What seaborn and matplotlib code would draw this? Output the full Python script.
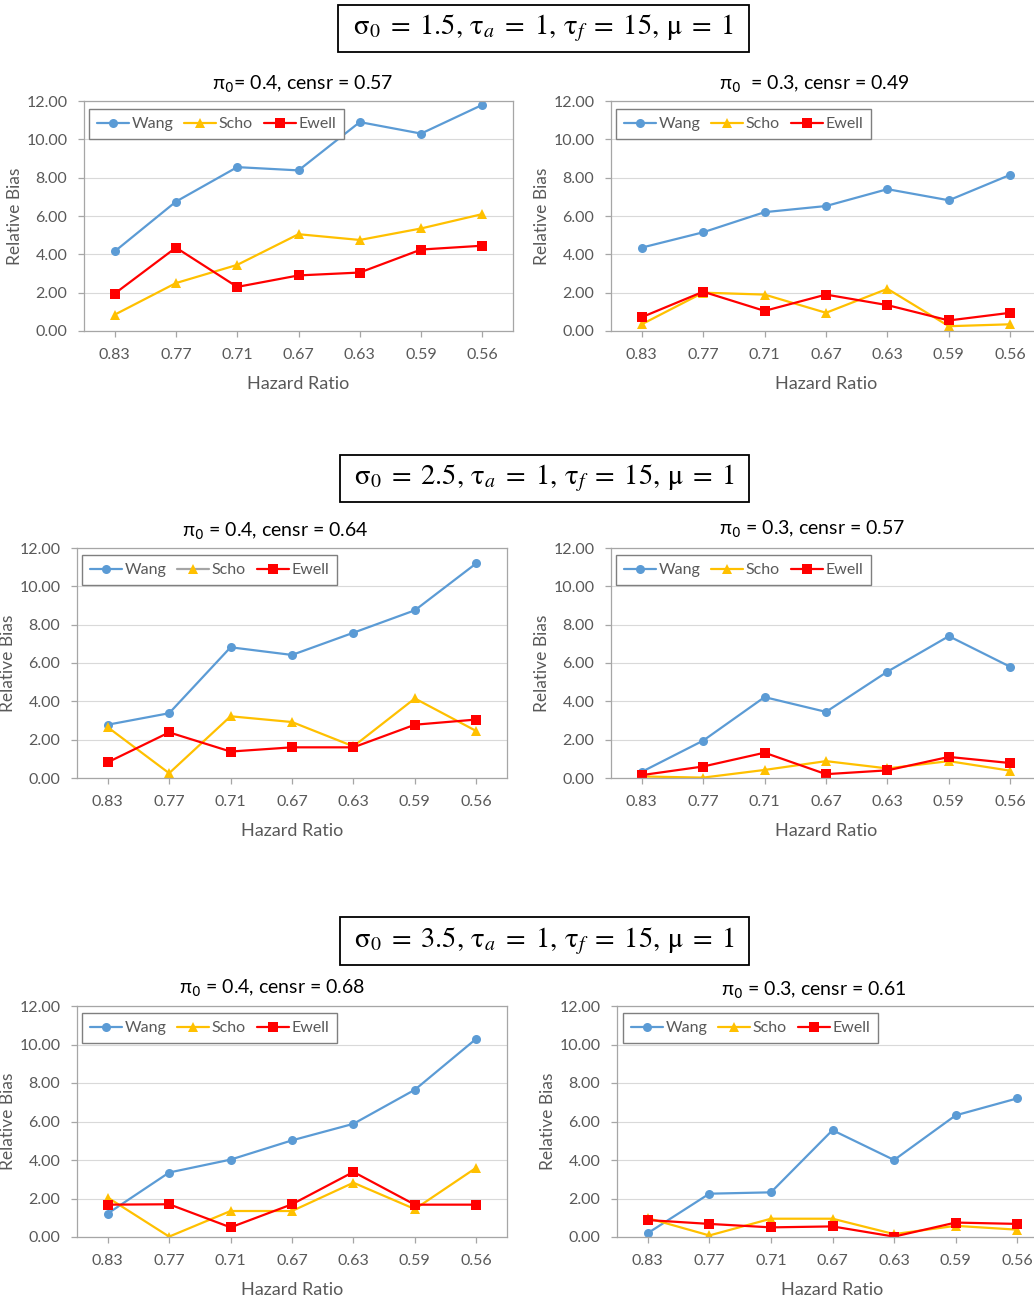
import numpy as np
import pandas as pd
import matplotlib.pyplot as plt
import seaborn as sns
from matplotlib.lines import Line2D
from matplotlib.patches import Rectangle

# categories and series
hr_labels = ["0.83", "0.77", "0.71", "0.67", "0.63", "0.59", "0.56"]
methods = ["Wang", "Scho", "Ewell"]

# sigma0 = 1.5
wang_15_04 = [4.15, 6.75, 8.55, 8.38, 10.90, 10.30, 11.80]
scho_15_04 = [0.85, 2.50, 3.45, 5.05, 4.75, 5.35, 6.10]
ewell_15_04 = [1.95, 4.35, 2.30, 2.90, 3.05, 4.25, 4.45]
wang_15_03 = [4.35, 5.15, 6.20, 6.52, 7.40, 6.82, 8.15]
scho_15_03 = [0.35, 2.00, 1.90, 0.95, 2.20, 0.25, 0.35]
ewell_15_03 = [0.72, 2.05, 1.05, 1.90, 1.35, 0.55, 0.95]

# sigma0 = 2.5
wang_25_04 = [2.78, 3.38, 6.82, 6.42, 7.58, 8.75, 11.20]
scho_25_04 = [2.65, 0.25, 3.22, 2.92, 1.65, 4.15, 2.45]
ewell_25_04 = [0.82, 2.38, 1.38, 1.60, 1.60, 2.78, 3.05]
wang_25_03 = [0.32, 1.95, 4.22, 3.45, 5.55, 7.40, 5.80]
scho_25_03 = [0.08, 0.02, 0.42, 0.88, 0.50, 0.88, 0.38]
ewell_25_03 = [0.15, 0.60, 1.32, 0.20, 0.40, 1.10, 0.78]

# sigma0 = 3.5
wang_35_04 = [1.22, 3.35, 4.02, 5.02, 5.88, 7.65, 10.30]
scho_35_04 = [2.05, 0.02, 1.35, 1.35, 2.82, 1.45, 3.60]
ewell_35_04 = [1.68, 1.70, 0.50, 1.70, 3.38, 1.68, 1.68]
wang_35_03 = [0.20, 2.25, 2.32, 5.55, 4.00, 6.32, 7.20]
scho_35_03 = [0.98, 0.08, 0.95, 0.95, 0.15, 0.58, 0.38]
ewell_35_03 = [0.88, 0.68, 0.50, 0.55, 0.02, 0.75, 0.68]

titles = ["π$_0$= 0.4, censr = 0.57", "π$_0$  = 0.3, censr = 0.49",
          "π$_0$ = 0.4, censr = 0.64", "π$_0$ = 0.3, censr = 0.57",
          "π$_0$ = 0.4, censr = 0.68", "π$_0$ = 0.3, censr = 0.61"]
sigmas = ["1.5", "2.5", "3.5"]
headers = [r"$\mathrm{\sigma}_0\;=\;%s,\,\mathrm{\tau}_a\;=\;1,\,\mathrm{\tau}_f\;=\;15,\,\mathrm{\mu}\;=\;1$" % s
           for s in sigmas]

series = [(wang_15_04, scho_15_04, ewell_15_04), (wang_15_03, scho_15_03, ewell_15_03),
          (wang_25_04, scho_25_04, ewell_25_04), (wang_25_03, scho_25_03, ewell_25_03),
          (wang_35_04, scho_35_04, ewell_35_04), (wang_35_03, scho_35_03, ewell_35_03)]

sns.set_theme(style="white")
plt.rcParams['font.family'] = ['Lato', 'DejaVu Sans']

W, H = 1034, 1302
fig = plt.figure(figsize=(W / 100, H / 100), dpi=100)
fig.patch.set_facecolor("white")

colors = {"Wang": "#5B9BD5", "Scho": "#FFC000", "Ewell": "#FF0000"}
markers = {"Wang": "o", "Scho": "^", "Ewell": "s"}
txt_gray = "#595959"
axis_gray = "#A6A6A6"

# plot area boxes in pixels: left, top, right, bottom
boxes = [(84, 101, 513, 331), (611, 101, 1041, 331),
         (77, 548, 507, 778), (611, 548, 1041, 778),
         (77, 1006, 507, 1237), (617, 1006, 1048, 1237)]
title_pos = [(303, 84), (814, 84), (275, 531), (812, 529), (272, 988), (814, 990)]
legend_off = [(5, 8), (5, 8), (5, 7), (5, 7), (5, 7), (6, 7)]

for i, (wang, scho, ewell) in enumerate(series):
    l, t, r, b = boxes[i]
    wpx, hpx = r - l, b - t
    ax = fig.add_axes([l / W, 1 - b / H, wpx / W, hpx / H])

    df = pd.DataFrame({
        "Hazard Ratio": hr_labels * 3,
        "Relative Bias": wang + scho + ewell,
        "Method": ["Wang"] * 7 + ["Scho"] * 7 + ["Ewell"] * 7,
    })
    sns.lineplot(data=df, x="Hazard Ratio", y="Relative Bias", hue="Method", style="Method",
                 hue_order=methods, style_order=methods, palette=colors, markers=markers,
                 dashes=False, sort=False, linewidth=1.6, markersize=6.5, markeredgewidth=0,
                 legend=False, ax=ax)

    ax.set_xlim(-0.5, 6.5)
    ax.set_ylim(0, 12)
    ax.set_yticks(np.arange(0, 13, 2))
    ax.set_yticklabels([f"{v:.2f}" for v in np.arange(0, 13, 2)])
    ax.yaxis.grid(True, color="#D9D9D9", linewidth=0.8)
    ax.xaxis.grid(False)
    ax.set_axisbelow(True)
    for s in ax.spines.values():
        s.set_color(axis_gray)
        s.set_linewidth(0.9)
    ax.tick_params(axis="both", which="both", bottom=True, left=True, direction="out",
                   length=4, width=0.9, color=axis_gray, labelcolor=txt_gray, labelsize=11.5)
    ax.tick_params(axis="x", pad=8)
    ax.tick_params(axis="y", pad=8)

    ax.set_xlabel("Hazard Ratio", fontsize=13, color=txt_gray)
    ax.set_ylabel("Relative Bias", fontsize=12.5, color=txt_gray)
    ax.xaxis.set_label_coords(0.5, -45 / hpx)
    ax.yaxis.set_label_coords(-61 / wpx, 0.5)

    tx, ty = title_pos[i]
    fig.text(tx / W, 1 - ty / H, titles[i], ha="center", va="center", fontsize=14, color="black")

    handles = []
    for m in methods:
        lc = colors[m]
        if i == 2 and m == "Scho":
            lc = "#A5A5A5"
        handles.append(Line2D([], [], color=lc, lw=1.6, marker=markers[m], markersize=6.5,
                              markerfacecolor=colors[m], markeredgewidth=0))
    dx, dy = legend_off[i]
    leg = ax.legend(handles, methods, ncol=3, loc="upper left",
                    bbox_to_anchor=(dx / wpx, 1 - dy / hpx), borderaxespad=0,
                    frameon=True, fancybox=False, framealpha=1, edgecolor="#7F7F7F",
                    fontsize=11.5, handlelength=2.0, handletextpad=0.15, columnspacing=0.7,
                    borderpad=0.5)
    leg.get_frame().set_linewidth(1.0)
    for txt in leg.get_texts():
        txt.set_color(txt_gray)

# boxed headers
header_boxes = [(338, 5, 749, 52), (340, 455, 749, 502), (340, 917, 749, 965)]
for (x0, y0, x1, y1), head in zip(header_boxes, headers):
    rect = Rectangle((x0 / W, 1 - y1 / H), (x1 - x0) / W, (y1 - y0) / H,
                     transform=fig.transFigure, fill=False, edgecolor="black", linewidth=1.3)
    fig.add_artist(rect)
    fig.text((x0 + x1) / 2 / W, 1 - (y0 + y1) / 2 / H, head, ha="center", va="center",
             fontsize=20.5, math_fontfamily="stix", color="black")

fig.savefig("out.png", dpi=100)
